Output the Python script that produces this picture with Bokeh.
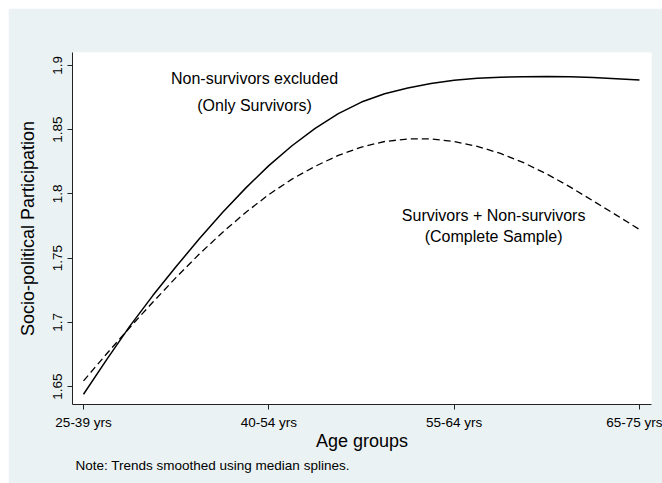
from bokeh.plotting import figure
from bokeh.models import FixedTicker, Range1d, Label, Title
from bokeh.embed import file_html
from bokeh.resources import INLINE

# ---- data ----
age_ticks = [1, 2, 3, 4]
age_labels = ["25-39 yrs", "40-54 yrs", "55-64 yrs", "65-75 yrs"]

x_grid = [1.0, 1.125, 1.25, 1.375, 1.5, 1.625, 1.75, 1.875, 2.0, 2.125, 2.25, 2.375, 2.5,
          2.625, 2.75, 2.875, 3.0, 3.125, 3.25, 3.375, 3.5, 3.625, 3.75, 3.875, 4.0]
only_survivors = [1.644, 1.671, 1.697, 1.721, 1.7435, 1.765, 1.7855, 1.8045, 1.822, 1.8375,
                  1.851, 1.8625, 1.8715, 1.878, 1.8825, 1.886, 1.8885, 1.8900, 1.8909,
                  1.8913, 1.8914, 1.8912, 1.8906, 1.8897, 1.8886]
complete_sample = [1.6544, 1.6755, 1.6960, 1.7158, 1.7350, 1.7532, 1.7700, 1.7855, 1.7995,
                   1.8115, 1.8215, 1.8300, 1.8365, 1.8408, 1.8428, 1.8428, 1.8408, 1.8370,
                   1.8315, 1.8243, 1.8155, 1.8055, 1.7945, 1.7835, 1.7723]

y_ticks = [1.65, 1.7, 1.75, 1.8, 1.85, 1.9]
y_tick_labels = ["1.65", "1.7", "1.75", "1.8", "1.85", "1.9"]

label_text = ["Non-survivors excluded", "(Only Survivors)",
              "Survivors + Non-survivors", "(Complete Sample)"]
label_x = [1.923, 1.923, 3.213, 3.213]
label_y = [1.890, 1.869, 1.7835, 1.767]

FONT = "Liberation Sans"
BG = "#EAF2F3"

p = figure(width=654, height=475, output_backend="svg", toolbar_location=None,
           x_range=Range1d(0.9406, 4.065), y_range=Range1d(1.636, 1.9101),
           min_border_left=64, min_border_right=11, min_border_top=44,
           min_border_bottom=79)
p.margin = (8, 0, 0, 8)
p.background_fill_color = "white"
p.border_fill_color = BG
p.outline_line_color = None
p.xgrid.visible = False
p.ygrid.visible = False

p.line(x_grid, only_survivors, line_color="black", line_width=1.5)
p.line(x_grid, complete_sample, line_color="black", line_width=1.3, line_dash="7 4")

for t, x, y in zip(label_text, label_x, label_y):
    p.add_layout(Label(x=x, y=y, text=t, text_align="center", text_baseline="middle",
                       text_font=FONT, text_font_size="16px", text_color="black"))

xa = p.xaxis[0]
xa.ticker = FixedTicker(ticks=age_ticks)
xa.major_label_overrides = {t: l for t, l in zip(age_ticks, age_labels)}
xa.axis_label = "Age groups"

ya = p.yaxis[0]
ya.ticker = FixedTicker(ticks=y_ticks)
ya.major_label_overrides = {t: l for t, l in zip(y_ticks, y_tick_labels)}
ya.major_label_orientation = "vertical"
ya.axis_label = "Socio-political Participation"

for ax in (xa, ya):
    ax.minor_tick_line_color = None
    ax.major_tick_in = 0
    ax.major_tick_out = 5
    ax.axis_line_color = "#222222"
    ax.major_tick_line_color = "#222222"
    ax.major_label_text_font = FONT
    ax.major_label_text_font_size = "13.5px"
    ax.major_label_text_color = "black"
    ax.major_label_standoff = 5
    ax.axis_label_text_font = FONT
    ax.axis_label_text_font_size = "18px"
    ax.axis_label_text_font_style = "normal"
    ax.axis_label_text_color = "black"
xa.axis_label_standoff = -2
ya.axis_label_standoff = 13

note = Title(text="Note: Trends smoothed using median splines.", align="left",
             text_font=FONT, text_font_size="13.5px", text_font_style="normal",
             text_color="black", offset=3, standoff=4)
p.add_layout(note, "below")

open("out.html", "w").write(file_html(p, INLINE))
